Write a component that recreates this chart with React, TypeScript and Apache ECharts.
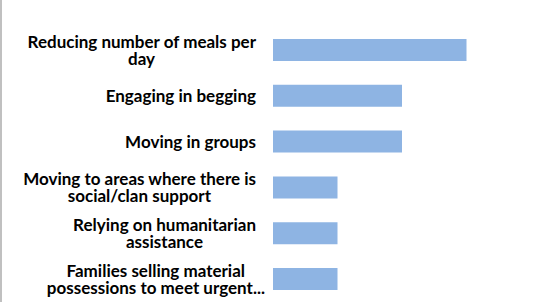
import React, { useEffect, useRef } from "react";
import * as echarts from "echarts";

const categories = [
  "Reducing number of meals per\nday",
  "Engaging in begging",
  "Moving in groups",
  "Moving to areas where there is\nsocial/clan support",
  "Relying on humanitarian\nassistance",
  "Families selling material\npossessions to meet urgent...",
];
const values = [3, 2, 2, 1, 1, 1];
// right-edge offset of each label block (px)
const labelRightPad = [9, 9, 9, 9, 9, 0];

const FONT_SIZE = 17;
const FONT = `bold ${FONT_SIZE}px Lato`;

export default function App() {
  const ref = useRef<HTMLDivElement>(null);
  useEffect(() => {
    document.body.style.margin = "0";
    const cvs = document.createElement("canvas");
    const ctx = cvs.getContext("2d")!;
    ctx.font = FONT;
    const rich: Record<string, any> = {};
    const formatted: string[] = categories.map((c, i) => {
      const lines = c.split("\n");
      const widths = lines.map((l) => ctx.measureText(l).width);
      const maxW = Math.max(...widths);
      return lines
        .map((l, j) => {
          const key = `l${i}_${j}`;
          rich[key] = {
            color: "#000",
            fontFamily: "Lato",
            fontWeight: "bold",
            fontSize: FONT_SIZE,
            lineHeight: 17,
            align: "right",
            padding: [0, Math.round((maxW - widths[j]) / 2), 0, 0],
          };
          return `{${key}|${l}}`;
        })
        .join("\n");
    });
    const chart = echarts.init(ref.current!, null, { renderer: "svg" });
    chart.setOption({
      animation: false,
      backgroundColor: "#ffffff",
      grid: { left: 273, top: 27, height: 276, right: 8 },
      xAxis: {
        type: "value",
        min: 0,
        max: 4,
        show: false,
        splitLine: { show: false },
      },
      yAxis: {
        type: "category",
        inverse: true,
        data: categories.map((c, i) => ({
          value: c,
          textStyle: { padding: [0, labelRightPad[i], 0, 0] },
        })),
        axisLine: { show: false },
        axisTick: { show: false },
        axisLabel: {
          margin: 8,
          color: "#000",
          fontFamily: "Lato",
          fontWeight: "bold",
          fontSize: FONT_SIZE,
          lineHeight: 17,
          formatter: (_v: string, idx: number) => formatted[idx],
          rich,
        },
      },
      series: [
        {
          type: "bar",
          data: values,
          barWidth: 22,
          itemStyle: { color: "#8EB4E3" },
        },
      ],
      graphic: [
        {
          type: "rect",
          shape: { x: 0, y: 0, width: 2, height: 302 },
          style: { fill: "#c0c0c0" },
          silent: true,
        },
      ],
    });
    return () => chart.dispose();
  }, []);
  return (
    <div
      ref={ref}
      style={{ position: "absolute", left: 0, top: 0, width: 539, height: 302 }}
    />
  );
}
